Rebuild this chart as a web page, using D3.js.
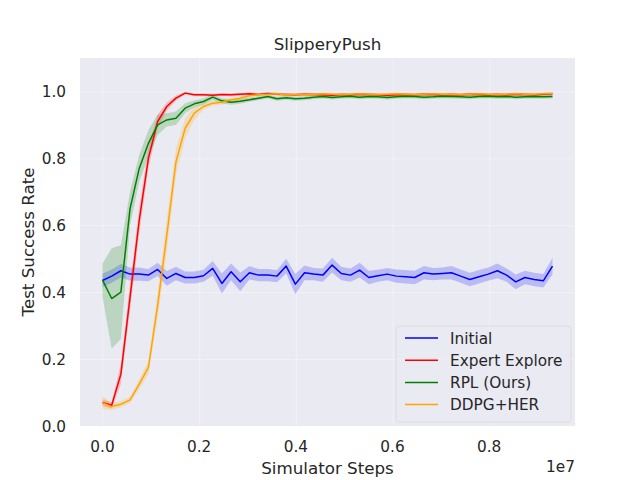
<!DOCTYPE html>
<html>
<head>
<meta charset="utf-8">
<script src="https://cdn.jsdelivr.net/npm/d3@7"></script>
<style>
	body{margin:0;background:#fff;}
	text{font-family:'DejaVu Sans',sans-serif;fill:#262626;}
</style>
</head>
<body>
<svg id="chart" width="640" height="480"></svg>
<script>
// simulator steps, in millions
const steps = [0,0.19,0.38,0.57,0.76,0.95,1.14,1.33,1.52,1.71,
	1.9,2.09,2.28,2.47,2.66,2.85,3.04,3.23,3.42,3.61,
	3.8,3.99,4.18,4.37,4.56,4.75,4.94,5.13,5.32,5.51,
	5.7,5.89,6.08,6.27,6.46,6.65,6.84,7.03,7.22,7.41,
	7.6,7.79,7.98,8.17,8.36,8.55,8.74,8.93,9.12,9.31]

const initial = [0.435,0.448,0.464,0.454,0.454,0.451,0.468,0.441,0.456,0.444,
	0.444,0.449,0.471,0.426,0.461,0.431,0.458,0.451,0.451,0.448,
	0.478,0.424,0.458,0.454,0.451,0.481,0.456,0.451,0.466,0.444,
	0.449,0.454,0.448,0.446,0.444,0.458,0.454,0.456,0.458,0.448,
	0.438,0.446,0.454,0.464,0.451,0.431,0.444,0.438,0.434,0.478]
const initialStd = [0.02,0.02,0.02,0.02,0.02,0.018,0.02,0.022,0.02,0.018,
	0.018,0.018,0.022,0.03,0.025,0.028,0.02,0.018,0.018,0.018,
	0.022,0.03,0.022,0.018,0.02,0.022,0.02,0.02,0.022,0.02,
	0.018,0.018,0.02,0.02,0.02,0.02,0.018,0.018,0.02,0.02,
	0.02,0.02,0.02,0.022,0.02,0.022,0.02,0.02,0.02,0.025]

const expert = [0.07,0.062,0.155,0.385,0.615,0.80,0.91,0.955,0.98,0.995,
	0.99,0.99,0.989,0.991,0.99,0.992,0.993,0.991,0.994,0.992,
	0.991,0.99,0.992,0.991,0.99,0.989,0.991,0.99,0.992,0.991,
	0.99,0.989,0.99,0.991,0.99,0.992,0.991,0.99,0.991,0.99,
	0.992,0.991,0.99,0.991,0.99,0.992,0.991,0.99,0.992,0.993]
const expertStd = [0.01,0.01,0.03,0.04,0.04,0.03,0.02,0.012,0.008,0.004,
	0.004,0.004,0.004,0.004,0.004,0.004,0.004,0.004,0.004,0.004,
	0.004,0.004,0.004,0.004,0.004,0.004,0.004,0.004,0.004,0.004,
	0.004,0.004,0.004,0.004,0.004,0.004,0.004,0.004,0.004,0.004,
	0.004,0.004,0.004,0.004,0.004,0.004,0.004,0.004,0.004,0.004]

const rpl = [0.436,0.381,0.40,0.65,0.77,0.845,0.90,0.915,0.92,0.95,
	0.963,0.97,0.983,0.972,0.968,0.971,0.975,0.98,0.985,0.978,
	0.981,0.978,0.98,0.983,0.985,0.982,0.984,0.986,0.983,0.985,
	0.984,0.982,0.984,0.986,0.985,0.983,0.984,0.986,0.985,0.984,
	0.983,0.985,0.986,0.984,0.985,0.983,0.984,0.985,0.984,0.985]
const rplStd = [0.05,0.15,0.14,0.05,0.04,0.04,0.03,0.02,0.02,0.015,
	0.01,0.01,0.008,0.008,0.008,0.008,0.006,0.006,0.006,0.006,
	0.006,0.006,0.006,0.006,0.006,0.006,0.006,0.006,0.006,0.006,
	0.006,0.006,0.006,0.006,0.006,0.006,0.006,0.006,0.006,0.006,
	0.006,0.006,0.006,0.006,0.006,0.006,0.006,0.006,0.006,0.006]

const ddpg = [0.07,0.058,0.065,0.078,0.125,0.175,0.36,0.57,0.79,0.89,
	0.935,0.955,0.965,0.968,0.975,0.98,0.987,0.99,0.992,0.993,
	0.99,0.991,0.992,0.991,0.993,0.992,0.991,0.992,0.993,0.992,
	0.991,0.992,0.993,0.992,0.991,0.992,0.993,0.992,0.992,0.991,
	0.992,0.993,0.992,0.991,0.992,0.993,0.992,0.992,0.993,0.994]
const ddpgStd = [0.02,0.01,0.01,0.01,0.015,0.02,0.04,0.05,0.04,0.03,
	0.02,0.01,0.008,0.008,0.006,0.006,0.005,0.004,0.004,0.004,
	0.004,0.004,0.004,0.004,0.004,0.004,0.004,0.004,0.004,0.004,
	0.004,0.004,0.004,0.004,0.004,0.004,0.004,0.004,0.004,0.004,
	0.004,0.004,0.004,0.004,0.004,0.004,0.004,0.004,0.004,0.004]

const seriesNames = ['Initial','Expert Explore','RPL (Ours)','DDPG+HER']
const seriesColors = ['#0000ff','#ff0000','#008000','#ffa500']
const seriesValues = [initial, expert, rpl, ddpg]
const seriesStd = [initialStd, expertStd, rplStd, ddpgStd]

const xTicks = [0, 2e6, 4e6, 6e6, 8e6]
const xTickLabels = ['0.0','0.2','0.4','0.6','0.8']
const yTicks = [0, 0.2, 0.4, 0.6, 0.8, 1.0]
const yTickLabels = ['0.0','0.2','0.4','0.6','0.8','1.0']

const chartTitle = 'SlipperyPush'
const xLabel = 'Simulator Steps'
const yLabel = 'Test Success Rate'
const xOffsetLabel = '1e7'

let outer_width = 640
let outer_height = 480

let margin = {
	top: 58,
	right: 65,
	bottom: 54,
	left: 80
};

const draw = ()=>{
	let width = outer_width - margin.left - margin.right;
	let height = outer_height - margin.top - margin.bottom;

	let xs = steps.map(s => s * 1e6)
	let xMin = d3.min(xs), xMax = d3.max(xs)
	let pad = (xMax - xMin) * 0.05

	const xScale = d3.scaleLinear()
		.domain([xMin - pad, xMax + pad])
		.range([0, width])

	const yScale = d3.scaleLinear()
		.domain([0, 1.1])
		.range([height, 0])

	const container = d3.select('#chart')

	const chart = container.append('g')
		.attr('transform', `translate(${margin.left},${margin.top})`)

	chart.append('rect')
		.attr('width', width)
		.attr('height', height)
		.attr('fill', '#eaeaf2')

	// white grid, seaborn style (very faint in the source picture)
	chart.append('g')
		.call(d3.axisBottom(xScale).tickValues(xTicks).tickSize(height).tickFormat(''))
		.call(g => g.select('.domain').remove())
		.selectAll('line')
			.attr('stroke', '#fff')
			.attr('stroke-opacity', 0.35)

	chart.append('g')
		.call(d3.axisLeft(yScale).tickValues(yTicks).tickSize(-width).tickFormat(''))
		.call(g => g.select('.domain').remove())
		.selectAll('line')
			.attr('stroke', '#fff')
			.attr('stroke-opacity', 0.35)

	const clip = container.append('clipPath')
		.attr('id', 'plotClip')
		.append('rect')
		.attr('width', width)
		.attr('height', height)

	const plot = chart.append('g').attr('clip-path', 'url(#plotClip)')

	const area = d3.area()
		.x((d, i) => xScale(xs[i]))
		.y0(d => yScale(d.lo))
		.y1(d => yScale(d.hi))

	const line = d3.line()
		.x((d, i) => xScale(xs[i]))
		.y(d => yScale(d))

	seriesValues.forEach((vals, s)=>{
		let band = vals.map((v, i) => ({lo: v - seriesStd[s][i], hi: v + seriesStd[s][i]}))
		plot.append('path')
			.datum(band)
			.attr('d', area)
			.attr('fill', seriesColors[s])
			.attr('fill-opacity', 0.2)
	})

	seriesValues.forEach((vals, s)=>{
		plot.append('path')
			.datum(vals)
			.attr('d', line)
			.attr('fill', 'none')
			.attr('stroke', seriesColors[s])
			.attr('stroke-width', 1.5)
			.attr('stroke-linejoin', 'round')
	})

	// tick labels
	chart.selectAll('.xtick')
		.data(xTicks)
		.enter()
		.append('text')
		.text((d, i) => xTickLabels[i])
		.attr('x', d => xScale(d))
		.attr('y', height + 26)
		.attr('text-anchor', 'middle')
		.attr('font-size', '15.3px')

	chart.selectAll('.ytick')
		.data(yTicks)
		.enter()
		.append('text')
		.text((d, i) => yTickLabels[i])
		.attr('x', -14)
		.attr('y', d => yScale(d) + 5.5)
		.attr('text-anchor', 'end')
		.attr('font-size', '15.3px')

	chart.append('text')
		.text(xOffsetLabel)
		.attr('x', width)
		.attr('y', height + 46)
		.attr('text-anchor', 'end')
		.attr('font-size', '15.3px')

	chart.append('text')
		.text(xLabel)
		.attr('x', width / 2)
		.attr('y', height + 48)
		.attr('text-anchor', 'middle')
		.attr('font-size', '16.7px')

	chart.append('text')
		.text(yLabel)
		.attr('transform', `translate(-46,${height / 2}) rotate(-90)`)
		.attr('text-anchor', 'middle')
		.attr('font-size', '16.7px')

	chart.append('text')
		.text(chartTitle)
		.attr('x', width / 2)
		.attr('y', -8)
		.attr('text-anchor', 'middle')
		.attr('font-size', '16.7px')

	// legend, lower right
	const legend = chart.append('g')
		.attr('transform', `translate(${width - 179},${height - 100})`)

	legend.append('rect')
		.attr('width', 175)
		.attr('height', 96)
		.attr('rx', 3)
		.attr('fill', '#eaeaf2')
		.attr('fill-opacity', 0.8)
		.attr('stroke', '#dcdce2')

	const rows = legend.selectAll('.row')
		.data(seriesNames)
		.enter()
		.append('g')
		.attr('transform', (d, i) => `translate(0,${12 + i * 22.2})`)

	rows.append('line')
		.attr('x1', 9)
		.attr('x2', 42)
		.attr('stroke', (d, i) => seriesColors[i])
		.attr('stroke-width', 1.5)

	rows.append('text')
		.text(d => d)
		.attr('x', 54)
		.attr('y', 5.5)
		.attr('font-size', '15.3px')
}

draw()
</script>
</body>
</html>
